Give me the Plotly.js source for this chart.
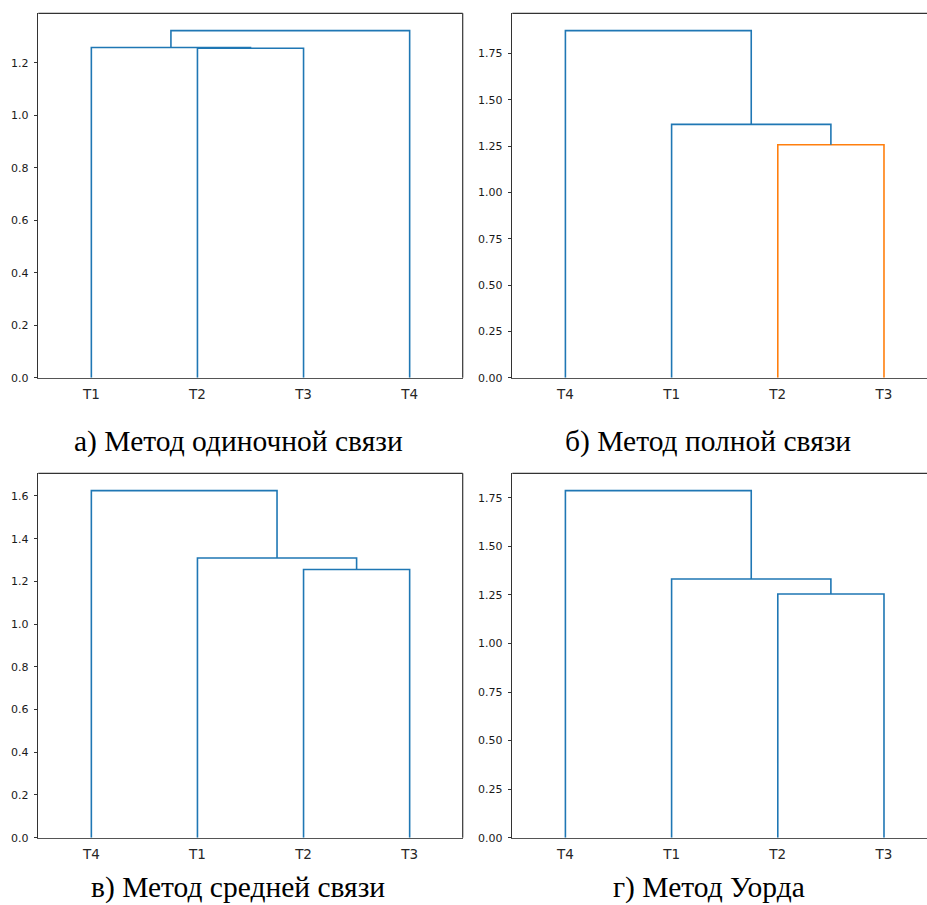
<!DOCTYPE html>
<html>
<head>
<meta charset="utf-8">
<script src="https://cdn.plot.ly/plotly-3.0.1.min.js"></script>
<style>html,body{margin:0;padding:0;background:#fff;}#chart{width:927px;height:905px;}</style>
</head>
<body>
<div id="chart"></div>
<script>
// ---- data ----
// leaf order along the x axis for each panel
const leavesA = ["T1", "T2", "T3", "T4"];
const leavesB = ["T4", "T1", "T2", "T3"];
const leavesC = ["T4", "T1", "T2", "T3"];
const leavesD = ["T4", "T1", "T2", "T3"];
// merges: [left child, right child] (leaf name or "c<k>" for k-th merge), and merge heights
const mergesA = [["T2", "T3"], ["T1", "c0"], ["c1", "T4"]];
const heightsA = [1.255, 1.258, 1.322];
const mergesB = [["T2", "T3"], ["T1", "c0"], ["T4", "c1"]];
const heightsB = [1.258, 1.368, 1.874];
const mergesC = [["T2", "T3"], ["T1", "c0"], ["T4", "c1"]];
const heightsC = [1.256, 1.310, 1.625];
const mergesD = [["T2", "T3"], ["T1", "c0"], ["T4", "c1"]];
const heightsD = [1.255, 1.332, 1.787];
// link colour groups (index into palette)
const colorsA = [0, 0, 0];
const colorsB = [1, 0, 0];
const colorsC = [0, 0, 0];
const colorsD = [0, 0, 0];
const yTicksA = [0.0, 0.2, 0.4, 0.6, 0.8, 1.0, 1.2];
const yTicksB = [0.00, 0.25, 0.50, 0.75, 1.00, 1.25, 1.50, 1.75];
const yTicksC = [0.0, 0.2, 0.4, 0.6, 0.8, 1.0, 1.2, 1.4, 1.6];
const yTicksD = [0.00, 0.25, 0.50, 0.75, 1.00, 1.25, 1.50, 1.75];
const captions = ["а) Метод одиночной связи", "б) Метод полной связи", "в) Метод средней связи", "г) Метод Уорда"];

// ---- rendering ----
const palette = ["#1f77b4", "#ff7f0e"];
const W = 927, H = 905;
function px(x) { return x / W; }
function py(y) { return 1 - y / H; }

const panels = [
  {leaves: leavesA, merges: mergesA, heights: heightsA, colors: colorsA, ticks: yTicksA, dec: 1,
   xd: [px(38.3), px(462.7)], yd: [py(377.7), py(13.3)], xmax: 40, right: true},
  {leaves: leavesB, merges: mergesB, heights: heightsB, colors: colorsB, ticks: yTicksB, dec: 2,
   xd: [px(512.3), 1], yd: [py(377.7), py(13.3)], xmax: 39.05, right: false},
  {leaves: leavesC, merges: mergesC, heights: heightsC, colors: colorsC, ticks: yTicksC, dec: 1,
   xd: [px(38.3), px(462.7)], yd: [py(837.7), py(473.3)], xmax: 40, right: true},
  {leaves: leavesD, merges: mergesD, heights: heightsD, colors: colorsD, ticks: yTicksD, dec: 2,
   xd: [px(512.3), 1], yd: [py(837.7), py(473.3)], xmax: 39.05, right: false}
];

const traces = [];
const layout = {
  width: W, height: H,
  margin: {l: 0, r: 0, t: 0, b: 0},
  paper_bgcolor: "#ffffff", plot_bgcolor: "#ffffff",
  showlegend: false,
  shapes: [], annotations: []
};

panels.forEach((p, i) => {
  const n = i + 1;
  const xa = "x" + (n === 1 ? "" : n), ya = "y" + (n === 1 ? "" : n);
  const xkey = "xaxis" + (n === 1 ? "" : n), ykey = "yaxis" + (n === 1 ? "" : n);
  // positions of nodes as in scipy dendrogram: leaves at 5, 15, 25, ...
  const pos = {}, hgt = {};
  p.leaves.forEach((l, k) => { pos[l] = 5 + 10 * k; hgt[l] = 0; });
  p.merges.forEach((m, k) => {
    const a = m[0], b = m[1], h = p.heights[k];
    traces.push({
      type: "scatter", mode: "lines", xaxis: xa, yaxis: ya,
      x: [pos[a], pos[a], pos[b], pos[b]],
      y: [hgt[a], h, h, hgt[b]],
      line: {color: palette[p.colors[k]], width: 1.6},
      hoverinfo: "skip"
    });
    pos["c" + k] = (pos[a] + pos[b]) / 2;
    hgt["c" + k] = h;
  });
  const ymax = Math.max(...p.heights) * 1.05;
  layout[xkey] = {
    domain: p.xd, anchor: ya, range: [0, p.xmax],
    tickmode: "array", tickvals: p.leaves.map((l, k) => 5 + 10 * k), ticktext: p.leaves,
    ticks: "", showgrid: false, zeroline: false,
    showline: true, linecolor: "#555555", linewidth: 1.2,
    tickfont: {family: "DejaVu Sans", size: 13.5, color: "#262626"},
    ticklabelstandoff: 4, fixedrange: true
  };
  layout[ykey] = {
    domain: p.yd, anchor: xa, range: [0, ymax],
    tickmode: "array", tickvals: p.ticks, ticktext: p.ticks.map(v => v.toFixed(p.dec)),
    ticks: "outside", ticklen: 3.5, tickwidth: 1, tickcolor: "#333333",
    showgrid: false, zeroline: false,
    showline: true, linecolor: "#333333", linewidth: 1.2,
    tickfont: {family: "DejaVu Sans", size: 11, color: "#1a1a1a"},
    ticklabelstandoff: 3, fixedrange: true
  };
  // top frame line (and right frame line when visible)
  layout.shapes.push({type: "line", xref: xa + " domain", yref: ya + " domain",
    x0: 0, x1: 1, y0: 1, y1: 1, line: {color: "#333333", width: 1.2}});
  if (p.right) {
    layout.shapes.push({type: "line", xref: xa + " domain", yref: ya + " domain",
      x0: 1, x1: 1, y0: 0, y1: 1, line: {color: "#333333", width: 1.2}});
  }
});

const capPos = [[238, 441], [708, 441], [238, 887], [709, 887]];
captions.forEach((c, i) => {
  layout.annotations.push({
    text: c, xref: "paper", yref: "paper",
    x: px(capPos[i][0]), y: py(capPos[i][1]), xanchor: "center", yanchor: "middle",
    showarrow: false,
    font: {family: "Liberation Serif, Times New Roman, serif", size: 29.5, color: "#000000"}
  });
});

Plotly.newPlot("chart", traces, layout, {displayModeBar: false, staticPlot: true});
</script>
</body>
</html>
